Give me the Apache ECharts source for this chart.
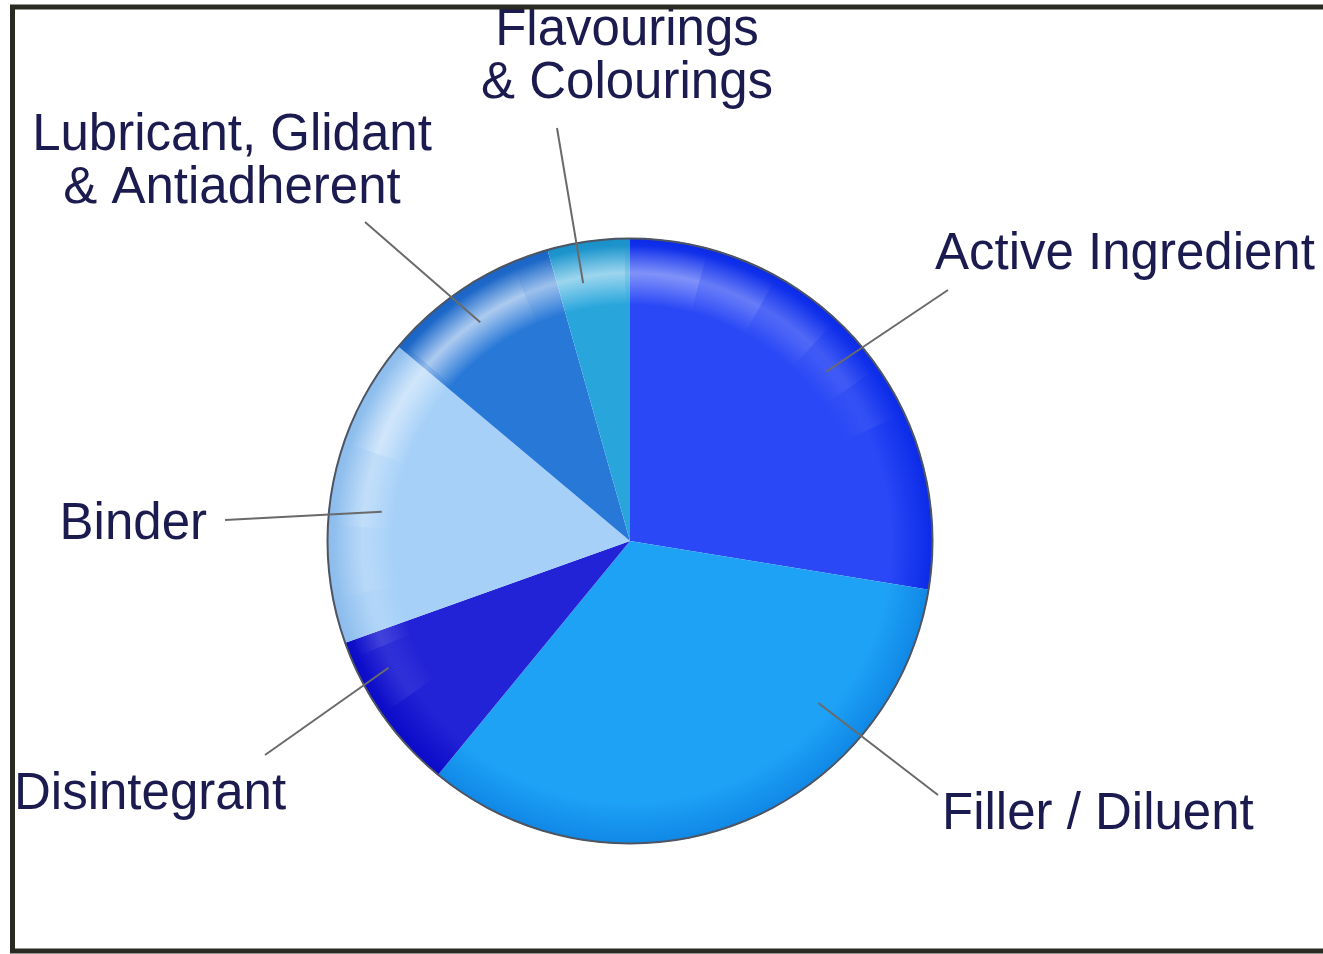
<!DOCTYPE html>
<html>
<head>
<meta charset="utf-8">
<script src="https://cdn.jsdelivr.net/npm/echarts@6/dist/echarts.min.js"></script>
<style>
html,body{margin:0;padding:0;background:#ffffff;}
#chart{width:1323px;height:954px;}
</style>
</head>
<body>
<div id="chart"></div>
<script>
// ---- data ----
const CATEGORIES = ['Active Ingredient', 'Filler / Diluent', 'Disintegrant', 'Binder',
  'Lubricant, Glidant & Antiadherent', 'Flavourings & Colourings'];
const VALUES = [27.6, 33.4, 8.6, 16.6, 9.5, 4.4];
const LABEL_TEXT = ['Active Ingredient', 'Filler / Diluent', 'Disintegrant', 'Binder',
  'Lubricant, Glidant\n& Antiadherent', 'Flavourings\n& Colourings'];

// ---- styles / layout ----
const BASE_COLORS = ['#2a48f6', '#1ea2f6', '#2222d6', '#a6d0f8', '#2878d8', '#28a6dc'];
const RIM_COLORS  = ['#0a2ae8', '#1088e6', '#0a0ac8', '#8cbcec', '#1a64c4', '#1a90c8'];
const CX = 630, CY = 541, R = 303;
// label anchor positions (layout only)
const LABEL_POS = [
  {x: 935, y: 255, align: 'left',   verticalAlign: 'middle'},
  {x: 942, y: 815, align: 'left',   verticalAlign: 'middle'},
  {x: 14,  y: 795, align: 'left',   verticalAlign: 'middle'},
  {x: 207, y: 525, align: 'right',  verticalAlign: 'middle'},
  {x: 232, y: 162, align: 'center', verticalAlign: 'middle'},
  {x: 627, y: 57,  align: 'center', verticalAlign: 'middle'}
];
// leader lines: start in polar terms (deg, fraction of radius), end near the label
const LEADERS = [
  {a: 40.8,  f: 0.855, end: [948, 290]},
  {a: -40.7, f: 0.82,  end: [938, 795]},
  {a: 207.7, f: 0.90,  end: [265, 755]},
  {a: 173.3, f: 0.825, end: [225, 520]},
  {a: 124.4, f: 0.875, end: [365, 222]},
  {a: 100.3, f: 0.865, end: [557, 128]}
];
// gloss band pieces (degrees, alpha), clockwise from GLOSS_START
const GLOSS_START = 215;
const GLOSS = [[12, 0.08], [12, 0.16], [14, 0.24], [16, 0.34], [22, 0.5], [26, 0.62],
               [22, 0.55], [16, 0.42], [14, 0.3], [14, 0.2], [12, 0.12], [10, 0.06]];

function radial(stops) {
  return {type: 'radial', x: CX, y: CY, r: R, global: true, colorStops: stops};
}

const sliceData = CATEGORIES.map((c, i) => ({
  name: c, value: VALUES[i],
  itemStyle: {color: radial([
    {offset: 0, color: BASE_COLORS[i]},
    {offset: 0.86, color: BASE_COLORS[i]},
    {offset: 1, color: RIM_COLORS[i]}
  ])}
}));

let glossUsed = 0;
const glossData = GLOSS.map(g => {
  glossUsed += g[0];
  return {value: g[0], itemStyle: {color: radial([
    {offset: 0.78, color: 'rgba(255,255,255,0)'},
    {offset: 0.885, color: 'rgba(255,255,255,' + g[1] + ')'},
    {offset: 0.975, color: 'rgba(255,255,255,0)'}
  ])}};
});
glossData.push({value: 360 - glossUsed, itemStyle: {color: 'rgba(0,0,0,0)'}});

const labelData = CATEGORIES.map((c, i) => ({name: c, value: VALUES[i]}));

function leaderPoints(i) {
  const L = LEADERS[i], rad = L.a * Math.PI / 180;
  return [[CX + R * L.f * Math.cos(rad), CY - R * L.f * Math.sin(rad)], L.end];
}

const chart = echarts.init(document.getElementById('chart'), null, {renderer: 'canvas'});
chart.setOption({
  backgroundColor: '#ffffff',
  animation: false,
  graphic: [{
    type: 'rect', silent: true, z: 100,
    shape: {x: 12.5, y: 7, width: 1400, height: 944},
    style: {fill: null, stroke: '#2b2a22', lineWidth: 5}
  }],
  series: [
    {
      type: 'pie', name: 'slices', silent: true,
      center: [CX, CY], radius: R, startAngle: 90, clockwise: true,
      label: {show: false}, labelLine: {show: false},
      data: sliceData
    },
    {
      type: 'pie', name: 'gloss', silent: true, z: 3,
      center: [CX, CY], radius: [R * 0.78, R * 0.98], startAngle: GLOSS_START, clockwise: true,
      label: {show: false}, labelLine: {show: false},
      data: glossData
    },
    {
      type: 'pie', name: 'outline', silent: true, z: 4,
      center: [CX, CY], radius: [R - 1.5, R + 0.5],
      label: {show: false}, labelLine: {show: false},
      data: [{value: 1, itemStyle: {color: '#4e5562'}}]
    },
    {
      type: 'pie', name: 'labels', silent: true, z: 5,
      center: [CX, CY], radius: R * 0.86, startAngle: 90, clockwise: true,
      avoidLabelOverlap: false,
      itemStyle: {color: 'rgba(0,0,0,0)'},
      label: {
        show: true, position: 'outside',
        formatter: p => LABEL_TEXT[p.dataIndex],
        color: '#1b1b50', fontSize: 51, lineHeight: 53,
        fontFamily: '"Liberation Sans", Arial, sans-serif'
      },
      labelLine: {show: true, length: 30, length2: 0,
        lineStyle: {color: '#6a6a6a', width: 2}},
      labelLayout: p => Object.assign({}, LABEL_POS[p.dataIndex],
        {labelLinePoints: leaderPoints(p.dataIndex)}),
      data: labelData
    }
  ]
});
</script>
</body>
</html>
